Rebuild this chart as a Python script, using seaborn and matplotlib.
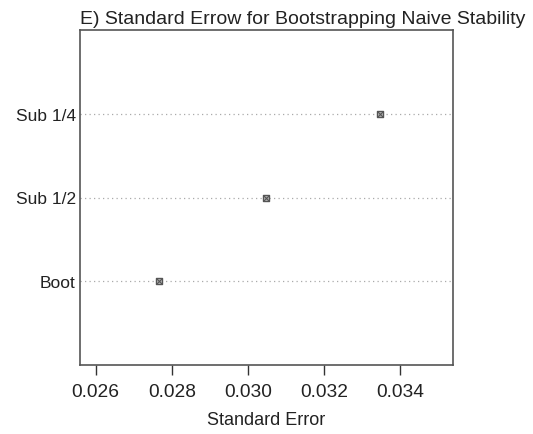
import matplotlib
matplotlib.use("Agg")
import matplotlib.pyplot as plt
import seaborn as sns
import pandas as pd

categories = ["Sub 1/4", "Sub 1/2", "Boot"]
std_error = [0.03348, 0.03047, 0.02766]
xticks = [0.026, 0.028, 0.030, 0.032, 0.034]
xtick_labels = ["0.026", "0.028", "0.030", "0.032", "0.034"]
title = "E) Standard Errow for Bootstrapping Naive Stability"
xlabel = "Standard Error"

df = pd.DataFrame({"method": categories, "se": std_error})

sns.set_theme(style="white")
plt.rcParams["font.family"] = ["Liberation Sans", "DejaVu Sans"]
plt.rcParams["text.color"] = "#222222"
plt.rcParams["axes.labelcolor"] = "#222222"
plt.rcParams["xtick.color"] = "#222222"
plt.rcParams["ytick.color"] = "#222222"

fig = plt.figure(figsize=(5.33, 4.35), dpi=100)
ax = fig.add_axes([80 / 533, 1 - 366 / 435, (453 - 80) / 533, (366 - 31) / 435])

mcol = "#555555"
sns.stripplot(data=df, x="se", y="method", order=categories, jitter=False,
              marker="s", size=5, facecolor="#bbbbbb", edgecolor=mcol, linewidth=1.0,
              color="#bbbbbb", ax=ax, zorder=3)
sns.stripplot(data=df, x="se", y="method", order=categories, jitter=False,
              marker="x", size=4, color=mcol, linewidth=0.8, ax=ax, zorder=4)

ax.set_xlim(0.025587, 0.035387)
ax.set_ylim(len(categories), -1)
ax.set_xticks(xticks)
ax.set_xticklabels(xtick_labels, fontsize=13.8)
ax.tick_params(axis="x", direction="out", length=7, width=1.0, pad=6, color="#333333", bottom=True)
ax.tick_params(axis="y", length=0, pad=3, labelsize=12.5)
ax.yaxis.grid(True, linestyle=(0, (1, 2.6)), color="#aaaaaa", linewidth=0.9)
ax.xaxis.grid(False)
ax.set_ylabel("")
ax.set_xlabel(xlabel, fontsize=13, labelpad=8)
for s in ax.spines.values():
    s.set_visible(True)
    s.set_color("#555555")
    s.set_linewidth(1.2)

fig.text(80 / 533, 1 - 24 / 435, title, ha="left", va="baseline", fontsize=14.0, color="#222222")

fig.savefig("out.png", dpi=100)
